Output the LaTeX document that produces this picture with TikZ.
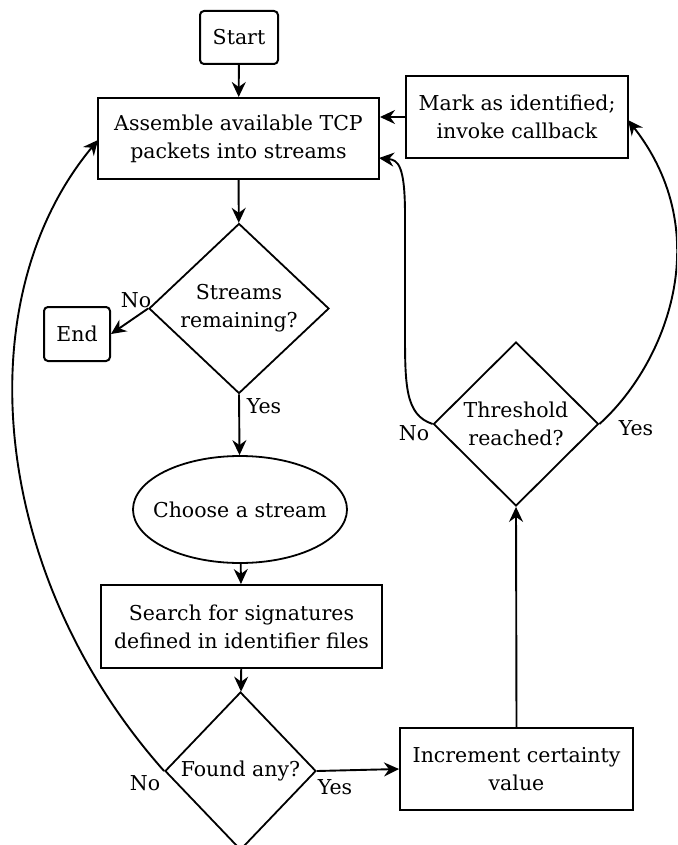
\documentclass[tikz,border=0pt]{standalone}
\usepackage{fontspec}
\setmainfont{DejaVu Serif}
\usetikzlibrary{shapes.geometric,arrows.meta}
\begin{document}
\begin{tikzpicture}[x=1pt,y=-1pt,
  every node/.style={font=\fontsize{20.5}{28}\selectfont},
  box/.style={draw,line width=2pt,rectangle,align=center,inner sep=0pt},
  rbox/.style={box,rounded corners=4pt},
  dia/.style={draw,line width=1.8pt,diamond,align=center,inner sep=0pt},
  ell/.style={draw,line width=1.8pt,ellipse,inner sep=0pt},
  lbl/.style={inner sep=0pt},
  arr/.style={line width=1.9pt,-{Stealth[length=15pt,width=14pt,inset=5pt]}},
  ln/.style={line width=1.9pt}]
\useasboundingbox (0,0) rectangle (677,845);
\clip (0,0) rectangle (677,845);
\node[rbox,minimum width=78pt,minimum height=53pt] (start) at (239,37.5) {Start};
\node[box,minimum width=281pt,minimum height=81pt] (asm) at (238.5,138.5) {Assemble available TCP\\packets into streams};
\node[box,minimum width=222pt,minimum height=82pt] (mark) at (517,117) {Mark as identified;\\invoke callback};
\node[dia,minimum width=180pt,minimum height=170pt] (sr) at (239,308.5) {Streams\\remaining?};
\node[rbox,minimum width=66pt,minimum height=54pt] (end) at (77,334) {End};
\node[dia,minimum width=165pt,minimum height=164pt] (th) at (516,424) {Threshold\\reached?};
\node[ell,minimum width=214pt,minimum height=107pt,label=center:{Choose a stream}] (ch) at (240,509.5) {};
\node[box,minimum width=281pt,minimum height=83pt] (srch) at (241.5,626.5) {Search for signatures\\defined in identifier files};
\node[dia,minimum width=151pt,minimum height=158pt] (fd) at (240.5,771) {Found any?};
\node[box,minimum width=233pt,minimum height=82pt] (inc) at (516.5,769) {Increment certainty\\value};

\coordinate (asmL) at (98,140);
\coordinate (asmR) at (379,158);
\coordinate (markR) at (628,120);

\draw[arr] (start) -- (asm);
\draw[arr] (asm) -- (sr);
\draw[arr] (sr.west) -- (end.east);
\draw[arr] (sr.south) -- (ch);
\draw[arr] (ch) -- (srch);
\draw[arr] (srch) -- (fd);
\draw[arr] (fd.east) -- (inc.west);
\draw[arr] (inc.north) -- (th.south);
\draw[arr] (mark.west) -- (asm.east |- mark.west);
\draw[arr] (fd.west) .. controls (-10,575) and (-35,300) .. (asmL);
\draw[arr] (th.west) .. controls (405,415) and (405,385) .. (405,330) -- (405,215) .. controls (405,165) and (398,160) .. (asmR);
\draw[arr] (th.east) .. controls (665,365) and (718,235) .. (markR);

\node[lbl] at (136,300) {No};
\node[lbl] at (264,406) {Yes};
\node[lbl] at (414,433) {No};
\node[lbl] at (636,428) {Yes};
\node[lbl] at (145,783) {No};
\node[lbl] at (335,787) {Yes};
\end{tikzpicture}
\end{document}
